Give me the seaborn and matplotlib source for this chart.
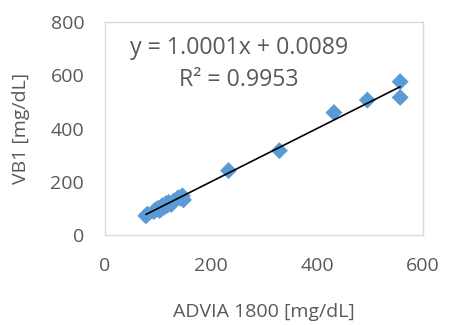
import numpy as np
import pandas as pd
import matplotlib
matplotlib.use("Agg")
import matplotlib.pyplot as plt
import seaborn as sns

# ADVIA 1800 reference method vs VB1 measurements (mg/dL)
advia = [77, 80, 92, 96, 100, 103, 106, 108, 112, 115, 118, 120, 125, 130,
         138, 143, 146, 148, 233, 329, 432, 495, 557, 557]
vb1 = [72, 78, 88, 95, 100, 92, 98, 110, 105, 118, 112, 122, 115, 128,
       140, 138, 147, 132, 242, 317, 460, 507, 576, 517]

slope = 1.0001
intercept = 0.0089
r_squared = 0.9953

x_ticks = [0, 200, 400, 600]
y_ticks = [0, 200, 400, 600, 800]

df = pd.DataFrame({"ADVIA": advia, "VB1": vb1})

sns.set_theme(style="white")
plt.rcParams["font.family"] = ["Open Sans", "DejaVu Sans"]

text_color = "#595959"
fig = plt.figure(figsize=(4.49, 3.25), dpi=100)
ax = fig.add_axes([0.234, 0.277, 0.708, 0.655])

sns.scatterplot(data=df, x="ADVIA", y="VB1", marker="D", s=75,
                color="#5B9BD5", edgecolor="none", ax=ax, zorder=2)

# linear trendline over the measured range
xs = np.array([min(advia), max(advia)])
ax.plot(xs, slope * xs + intercept, color="black", lw=1.2, zorder=3)

ax.set_xlim(0, 600)
ax.set_ylim(0, 800)
ax.set_xticks(x_ticks)
ax.set_yticks(y_ticks)
ax.tick_params(axis="x", length=0, pad=16, labelsize=14, labelcolor=text_color)
ax.tick_params(axis="y", length=0, pad=15, labelsize=14, labelcolor=text_color)
ax.set_xlabel("ADVIA 1800 [mg/dL]", fontsize=14, color=text_color)
ax.set_ylabel("VB1 [mg/dL]", fontsize=14, color=text_color)
ax.xaxis.set_label_coords(0.5, -0.318)
ax.yaxis.set_label_coords(-0.235, 0.5)

for sp in ax.spines.values():
    sp.set_color("#D9D9D9")
    sp.set_linewidth(1)

ax.text(0.42, 0.878, f"y = {slope:.4f}x + {intercept:.4f}", transform=ax.transAxes,
        ha="center", va="center", fontsize=16.7, color=text_color)
ax.text(0.42, 0.728, f"R² = {r_squared:.4f}", transform=ax.transAxes,
        ha="center", va="center", fontsize=16.7, color=text_color)

fig.savefig("out.png", dpi=100)
